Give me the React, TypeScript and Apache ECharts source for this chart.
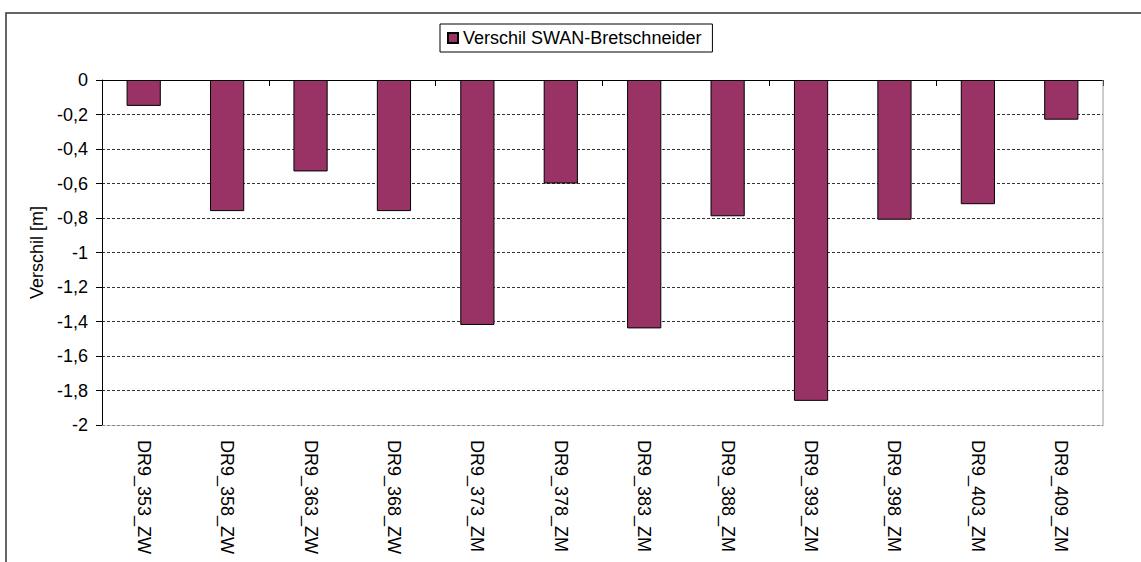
import React, { useEffect, useRef } from "react";
import * as echarts from "echarts";

const categories = [
  "DR9_353_ZW", "DR9_358_ZW", "DR9_363_ZW", "DR9_368_ZW", "DR9_373_ZM", "DR9_378_ZM",
  "DR9_383_ZM", "DR9_388_ZM", "DR9_393_ZM", "DR9_398_ZM", "DR9_403_ZM", "DR9_409_ZM",
];
const verschil = [-0.15, -0.76, -0.53, -0.76, -1.42, -0.6, -1.44, -0.79, -1.86, -0.81, -0.72, -0.23];
const seriesName = "Verschil SWAN-Bretschneider";
const yAxisName = "Verschil [m]";

const FONT = "Liberation Sans, Arial, sans-serif";
const FS = 18;

export default function App() {
  const ref = useRef<HTMLDivElement>(null);
  useEffect(() => {
    if (!ref.current) return;
    const chart = echarts.init(ref.current, null, { renderer: "svg" });
    const gridLeft = 102, gridTop = 80, gridRight = 38, gridBottom = 137;
    const W = 1141, H = 562;
    chart.setOption({
      animation: false,
      backgroundColor: "#fff",
      textStyle: { fontFamily: FONT },
      legend: {
        left: 440,
        top: 24,
        data: [seriesName],
        itemWidth: 10,
        itemHeight: 10,
        itemGap: 5,
        icon: "rect",
        borderColor: "#000",
        borderWidth: 1,
        padding: [5, 11, 5, 7],
        textStyle: { fontSize: FS, color: "#000", fontFamily: FONT },
      },
      grid: { left: gridLeft, top: gridTop, right: gridRight, bottom: gridBottom },
      xAxis: [
        {
          type: "category",
          data: categories,
          position: "bottom",
          axisLine: { show: true, onZero: false, lineStyle: { color: "#888", type: [3, 2] } },
          axisTick: { show: false },
          axisLabel: { rotate: -90, margin: 15, fontSize: FS, color: "#000", fontFamily: FONT },
        },
        {
          type: "category",
          data: categories,
          position: "top",
          axisLine: { show: true, onZero: false, lineStyle: { color: "#000", width: 1 } },
          axisTick: { show: true, inside: true, length: 6, lineStyle: { color: "#000" } },
          axisLabel: { show: false },
        },
      ],
      yAxis: {
        type: "value",
        min: -2,
        max: 0,
        interval: 0.2,
        name: yAxisName,
        nameLocation: "middle",
        nameGap: 56,
        nameTextStyle: { fontSize: FS, color: "#000", fontFamily: FONT },
        axisLine: { show: true, lineStyle: { color: "#000" } },
        axisTick: { show: true, length: 6, lineStyle: { color: "#000" } },
        axisLabel: {
          fontSize: FS,
          color: "#000",
          margin: 14,
          fontFamily: FONT,
          formatter: (v: number) => String(Math.round(v * 10) / 10).replace(".", ","),
        },
        splitLine: { show: true, lineStyle: { color: "#333", type: [3, 2], width: 1 } },
      },
      series: [
        {
          name: seriesName,
          type: "bar",
          data: verschil,
          barWidth: "41%",
          itemStyle: { color: "#993366", borderColor: "#000", borderWidth: 1 },
        },
      ],
      graphic: [
        {
          type: "line",
          shape: { x1: W - gridRight, y1: gridTop, x2: W - gridRight, y2: H - gridBottom },
          style: { stroke: "#999", lineWidth: 1 },
          z: 1,
        },
        {
          type: "rect",
          shape: { x: 6, y: 13, width: 1300, height: 700 },
          style: { fill: "none", stroke: "#333", lineWidth: 1.5 },
          z: 0,
        },
      ],
    });
    return () => chart.dispose();
  }, []);
  return (
    <div
      ref={ref}
      style={{ position: "absolute", left: 0, top: 0, width: 1141, height: 562 }}
    />
  );
}
